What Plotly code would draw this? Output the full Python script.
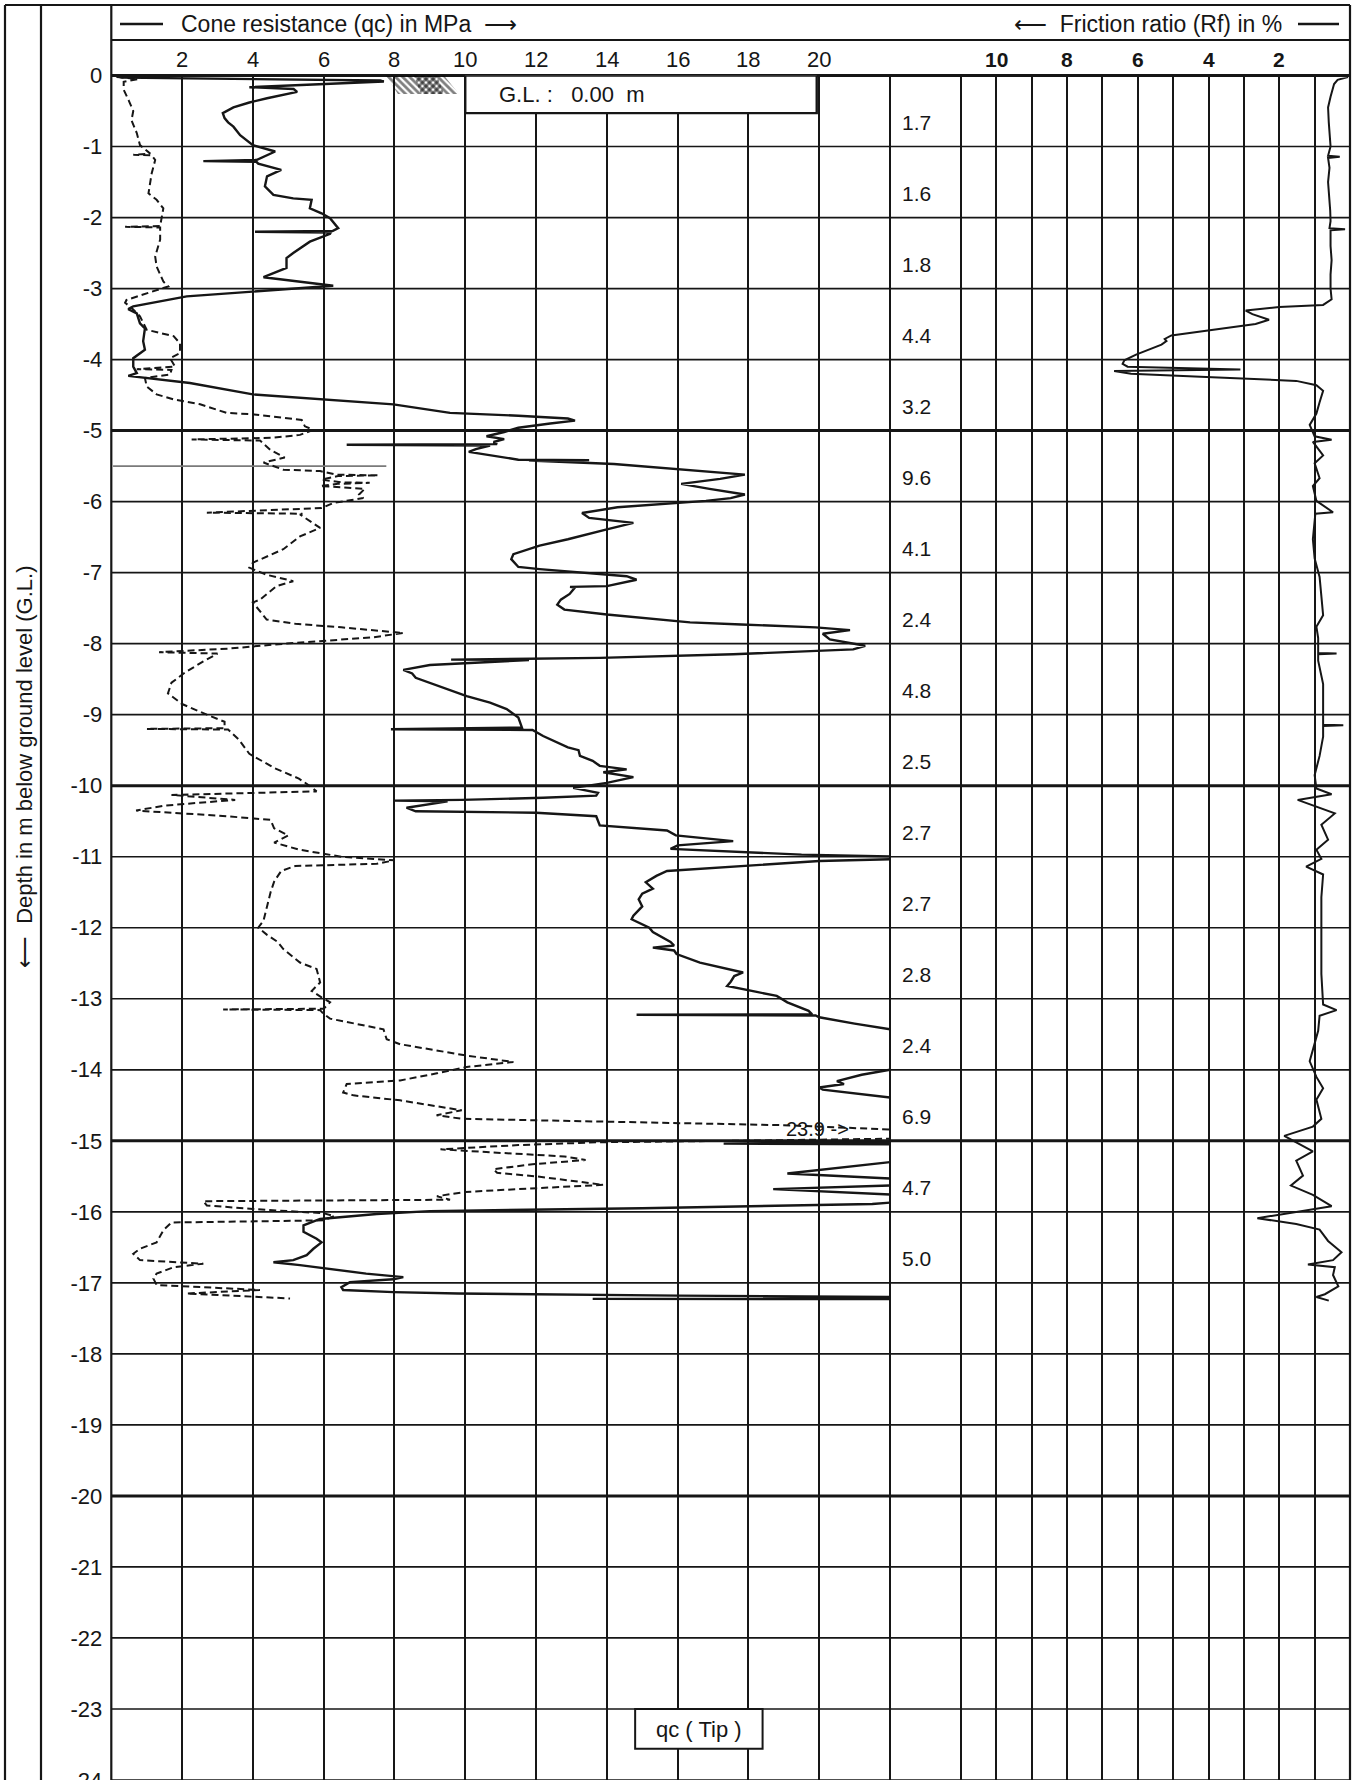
import plotly.graph_objects as go

# ---------------------------------------------------------------------------
# CPT log data (depth below ground level in m)
# ---------------------------------------------------------------------------
# cone tip resistance qc [MPa]
qc_profile = [
    (0.00, 0.1), (0.03, 0.3), (0.07, 7.6), (0.085, 7.7), (0.165, 3.9), (0.175, 4.6),
    (0.19, 5.15), (0.23, 5.25), (0.27, 4.85), (0.32, 4.4), (0.38, 3.9), (0.45, 3.45),
    (0.53, 3.15), (0.60, 3.2), (0.66, 3.3), (0.72, 3.45), (0.84, 3.64), (0.93, 3.87),
    (0.98, 4.0), (1.07, 4.63), (1.14, 4.3), (1.19, 4.1), (1.205, 2.6), (1.215, 4.1),
    (1.24, 4.15), (1.33, 4.8), (1.42, 4.4), (1.56, 4.34), (1.68, 4.58), (1.73, 5.14),
    (1.75, 5.66), (1.87, 5.61), (1.94, 5.94), (2.01, 6.18), (2.15, 6.41), (2.19, 6.25),
    (2.20, 4.06), (2.21, 6.2), (2.23, 6.18), (2.34, 5.61), (2.50, 5.14), (2.57, 4.95),
    (2.71, 4.95), (2.78, 4.58), (2.84, 4.3), (2.96, 6.27), (2.99, 5.43), (3.11, 2.13),
    (3.25, 0.62), (3.29, 0.48), (3.35, 0.72), (3.49, 0.81), (3.56, 0.95), (3.74, 0.9),
    (3.86, 0.95), (3.98, 0.62), (4.10, 0.62), (4.19, 0.72), (4.23, 0.48), (4.33, 2.22),
    (4.49, 4.0), (4.56, 5.99), (4.63, 7.97), (4.75, 9.57), (4.79, 11.5), (4.83, 12.9),
    (4.86, 13.1), (4.90, 12.4), (4.96, 11.5), (5.02, 11.1), (5.08, 10.6), (5.12, 11.1),
    (5.16, 10.8), (5.19, 10.9), (5.20, 6.65), (5.21, 10.7), (5.26, 10.3), (5.30, 10.1),
    (5.34, 10.6), (5.38, 11.0), (5.41, 11.5), (5.415, 13.5), (5.42, 11.8), (5.47, 14.2),
    (5.55, 16.1), (5.62, 17.9), (5.68, 17.2), (5.75, 16.1), (5.82, 16.9), (5.90, 17.9),
    (5.95, 17.5), (5.99, 16.8), (6.08, 14.3), (6.16, 13.3), (6.23, 13.5), (6.30, 14.75),
    (6.39, 14.0), (6.53, 12.9), (6.62, 12.1), (6.74, 11.36), (6.81, 11.3), (6.92, 11.5),
    (6.95, 12.1), (7.00, 13.4), (7.05, 14.56), (7.10, 14.84), (7.19, 14.0), (7.20, 12.96),
    (7.21, 13.1), (7.30, 12.95), (7.38, 12.7), (7.45, 12.6), (7.52, 12.8), (7.59, 14.0),
    (7.70, 16.35), (7.73, 17.8), (7.77, 19.9), (7.81, 20.87), (7.86, 20.1), (7.94, 20.3),
    (8.03, 21.3), (8.08, 20.96), (8.15, 17.57), (8.20, 13.8), (8.225, 9.6), (8.23, 11.8),
    (8.30, 9.0), (8.37, 8.25), (8.42, 8.5), (8.48, 8.6), (8.60, 9.28), (8.74, 10.04),
    (8.83, 10.7), (8.92, 11.17), (9.04, 11.5), (9.18, 11.6), (9.205, 7.9), (9.215, 11.9),
    (9.30, 12.2), (9.39, 12.58), (9.46, 12.9), (9.50, 13.2), (9.58, 13.24), (9.65, 13.6),
    (9.72, 13.8), (9.77, 14.56), (9.81, 13.9), (9.88, 14.75), (9.96, 14.0), (10.03, 13.05),
    (10.10, 13.75), (10.14, 13.7), (10.17, 12.2), (10.20, 9.9), (10.21, 8.0), (10.22, 9.5),
    (10.31, 8.34), (10.36, 8.6), (10.38, 12.0), (10.43, 13.7), (10.56, 13.8), (10.63, 15.7),
    (10.70, 15.95), (10.78, 17.57), (10.84, 16.0), (10.89, 15.8), (10.97, 19.5), (11.00, 22.5),
    (11.03, 22.5), (11.06, 20.0), (11.20, 15.7), (11.27, 15.4), (11.36, 15.1), (11.45, 15.3),
    (11.52, 15.0), (11.60, 14.9), (11.70, 15.0), (11.83, 14.75), (11.88, 14.7), (12.00, 15.2),
    (12.06, 15.3), (12.20, 15.8), (12.25, 15.9), (12.28, 15.3), (12.32, 15.9), (12.37, 15.97),
    (12.49, 16.63), (12.63, 17.85), (12.68, 17.6), (12.76, 17.5), (12.82, 17.4), (12.90, 18.2),
    (12.96, 18.8), (13.05, 19.1), (13.17, 19.7), (13.22, 19.8), (13.225, 14.84), (13.235, 19.9),
    (13.26, 20.0), (13.35, 21.0), (13.43, 22.0), (13.50, 23.5), (13.95, 23.5), (14.00, 22.0),
    (14.07, 21.2), (14.16, 20.5), (14.20, 20.7), (14.25, 20.0), (14.28, 20.1), (14.39, 22.0),
    (14.45, 23.5), (14.97, 23.5), (15.02, 22.0), (15.04, 17.3), (15.05, 22.0), (15.09, 23.5),
    (15.26, 23.5), (15.30, 22.0), (15.46, 19.1), (15.53, 22.0), (15.56, 23.5), (15.60, 23.5),
    (15.63, 22.0), (15.68, 18.7), (15.75, 22.0), (15.78, 23.0), (15.85, 22.5), (15.89, 21.5),
    (15.95, 15.0), (15.99, 9.0), (16.03, 7.5), (16.10, 5.9), (16.19, 5.43), (16.28, 5.43),
    (16.38, 5.8), (16.43, 5.94), (16.52, 5.71), (16.61, 5.52), (16.68, 5.14), (16.71, 4.58),
    (16.75, 5.33), (16.82, 6.46), (16.87, 7.2), (16.92, 8.25), (16.95, 7.97), (16.99, 6.74),
    (17.06, 6.5), (17.10, 6.55), (17.13, 7.97), (17.15, 9.8), (17.18, 16.0), (17.20, 22.5),
    (17.22, 22.0), (17.225, 13.6), (17.23, 22.5),
]

# sleeve friction trace plotted on the qc scale (dashed)
fs_profile = [
    (0.02, 0.15), (0.05, 0.75), (0.09, 0.35), (0.20, 0.35), (0.36, 0.5), (0.50, 0.62),
    (0.63, 0.57), (0.81, 0.72), (0.98, 0.81), (1.10, 1.1), (1.115, 0.62), (1.125, 1.14),
    (1.19, 1.24), (1.38, 1.14), (1.66, 1.05), (1.75, 1.28), (1.87, 1.47), (2.01, 1.42),
    (2.12, 1.38), (2.13, 0.39), (2.14, 1.38), (2.31, 1.38), (2.55, 1.24), (2.69, 1.28),
    (2.90, 1.47), (2.97, 1.61), (3.04, 1.19), (3.16, 0.43), (3.20, 0.39), (3.27, 0.57),
    (3.39, 0.81), (3.58, 1.0), (3.67, 1.76), (3.77, 1.94), (3.91, 1.94), (3.98, 1.66),
    (4.10, 1.8), (4.135, 0.72), (4.145, 1.7), (4.21, 1.66), (4.26, 0.95), (4.38, 1.0),
    (4.49, 1.28), (4.56, 1.76), (4.63, 2.51), (4.75, 3.26), (4.77, 4.0), (4.82, 4.86),
    (4.85, 5.38), (4.94, 5.47), (4.99, 5.71), (5.06, 5.33), (5.10, 4.58), (5.125, 2.27),
    (5.14, 4.2), (5.27, 4.49), (5.38, 4.9), (5.45, 4.3), (5.55, 4.86), (5.57, 5.9),
    (5.62, 6.37), (5.63, 7.54), (5.64, 6.4), (5.69, 5.94), (5.73, 6.55), (5.735, 7.3),
    (5.75, 6.4), (5.78, 5.9), (5.82, 7.16), (5.90, 7.0), (5.95, 7.12), (6.02, 6.27),
    (6.09, 5.94), (6.155, 2.7), (6.17, 5.4), (6.18, 5.33), (6.37, 5.9), (6.49, 5.33),
    (6.67, 4.86), (6.86, 4.0), (6.93, 3.9), (7.03, 4.39), (7.12, 5.14), (7.19, 4.67),
    (7.38, 4.2), (7.42, 4.0), (7.66, 4.39), (7.72, 5.2), (7.77, 6.5), (7.85, 8.25),
    (7.91, 7.4), (8.00, 4.9), (8.07, 3.3), (8.12, 1.35), (8.14, 3.0), (8.25, 2.6),
    (8.40, 2.1), (8.55, 1.7), (8.70, 1.6), (8.85, 2.0), (9.00, 2.7), (9.10, 3.2),
    (9.19, 3.2), (9.20, 1.0), (9.21, 3.3), (9.35, 3.6), (9.55, 3.9), (9.75, 4.6),
    (9.90, 5.3), (10.00, 5.6), (10.08, 5.8), (10.13, 1.7), (10.20, 3.5), (10.28, 1.5),
    (10.35, 0.7), (10.42, 3.0), (10.48, 4.5), (10.60, 4.6), (10.70, 5.0), (10.80, 4.6),
    (10.90, 5.3), (11.00, 6.5), (11.05, 8.0), (11.10, 7.5), (11.13, 5.2), (11.20, 4.8),
    (11.35, 4.6), (11.50, 4.5), (11.70, 4.4), (11.90, 4.3), (12.00, 4.15), (12.10, 4.4),
    (12.20, 4.7), (12.30, 4.86), (12.49, 5.33), (12.58, 5.8), (12.77, 5.9), (12.89, 5.66),
    (12.98, 5.94), (13.05, 6.18), (13.14, 6.0), (13.15, 3.16), (13.16, 5.9), (13.21, 5.99),
    (13.28, 6.18), (13.43, 7.69), (13.57, 7.78), (13.64, 8.16), (13.80, 10.04), (13.89, 11.36),
    (13.96, 10.04), (14.05, 9.2), (14.15, 8.16), (14.20, 6.65), (14.32, 6.55), (14.36, 6.84),
    (14.43, 8.16), (14.50, 9.1), (14.57, 9.9), (14.64, 9.19), (14.69, 9.9), (14.78, 19.0),
    (14.83, 22.0), (14.88, 23.9), (14.93, 23.9), (14.97, 22.0), (15.00, 17.6), (15.02, 13.8),
    (15.06, 11.5), (15.12, 9.3), (15.17, 11.0), (15.22, 12.8), (15.27, 13.4), (15.33, 11.9),
    (15.40, 10.8), (15.45, 10.9), (15.50, 12.0), (15.56, 13.0), (15.62, 13.9), (15.68, 11.5),
    (15.72, 10.0), (15.78, 9.2), (15.83, 9.57), (15.85, 2.6), (15.91, 2.7), (15.96, 4.0),
    (16.02, 6.0), (16.06, 6.3), (16.12, 6.0), (16.15, 1.7), (16.26, 1.47), (16.43, 1.28),
    (16.52, 0.81), (16.59, 0.62), (16.68, 0.81), (16.73, 2.6), (16.78, 1.76), (16.87, 1.28),
    (16.94, 1.19), (17.03, 1.28), (17.10, 4.2), (17.15, 2.13), (17.22, 5.05),
]

# isolated friction reading glitch at 5.5 m
fs_glitch_depth = [5.5, 5.5]
fs_glitch_value = [0.05, 7.77]

# friction ratio Rf [%]
rf_profile = [
    (0.00, 0.35), (0.02, 0.06), (0.06, 0.35), (0.12, 0.45), (0.30, 0.55), (0.45, 0.62),
    (0.66, 0.6), (0.80, 0.58), (1.00, 0.55), (1.13, 0.62), (1.145, 0.29), (1.16, 0.62),
    (1.30, 0.58), (1.50, 0.62), (1.70, 0.58), (1.90, 0.56), (2.05, 0.55), (2.15, 0.58),
    (2.165, 0.14), (2.18, 0.55), (2.40, 0.55), (2.60, 0.52), (2.80, 0.55), (3.00, 0.55),
    (3.15, 0.52), (3.23, 0.76), (3.26, 2.0), (3.31, 2.95), (3.36, 2.76), (3.44, 2.29),
    (3.50, 2.67), (3.58, 3.9), (3.66, 5.05), (3.71, 5.24), (3.74, 5.19), (3.79, 5.33),
    (3.85, 5.62), (3.93, 6.05), (4.01, 6.38), (4.06, 6.43), (4.10, 6.29), (4.14, 3.1),
    (4.16, 6.67), (4.20, 6.19), (4.25, 3.9), (4.30, 1.52), (4.36, 0.95), (4.44, 0.76),
    (4.60, 0.86), (4.76, 0.95), (4.92, 1.14), (5.08, 1.0), (5.13, 0.52), (5.16, 1.05),
    (5.35, 0.76), (5.46, 1.0), (5.67, 0.86), (5.78, 1.05), (5.99, 0.95), (6.15, 0.48),
    (6.17, 0.98), (6.26, 1.0), (6.53, 1.05), (6.80, 1.0), (7.06, 0.86), (7.33, 0.81),
    (7.60, 0.76), (7.76, 0.95), (7.92, 0.9), (8.13, 0.9), (8.14, 0.38), (8.15, 0.9),
    (8.24, 0.9), (8.57, 0.76), (8.89, 0.76), (9.14, 0.76), (9.15, 0.19), (9.16, 0.76),
    (9.31, 0.76), (9.58, 0.86), (9.85, 1.0), (10.04, 0.95), (10.12, 0.52), (10.20, 1.48),
    (10.39, 0.43), (10.55, 0.81), (10.76, 0.62), (10.90, 0.95), (11.03, 0.81), (11.14, 1.24),
    (11.25, 0.76), (11.57, 0.81), (12.16, 0.81), (12.65, 0.81), (13.08, 0.76), (13.16, 0.38),
    (13.24, 0.86), (13.45, 0.9), (13.88, 1.14), (14.10, 0.95), (14.26, 0.76), (14.42, 0.95),
    (14.69, 0.81), (14.80, 1.05), (14.93, 1.86), (15.06, 1.38), (15.15, 1.05), (15.28, 1.52),
    (15.49, 1.33), (15.63, 1.67), (15.76, 1.05), (15.92, 0.52), (16.09, 2.62), (16.17, 1.52),
    (16.25, 0.86), (16.41, 0.62), (16.57, 0.24), (16.68, 0.48), (16.74, 1.19), (16.78, 0.43),
    (16.89, 0.48), (17.05, 0.33), (17.16, 0.71), (17.20, 0.95), (17.25, 0.6),
]

# per-metre values printed in the middle column
layer_label_depth = [0.66, 1.66, 2.66, 3.66, 4.66, 5.66, 6.66, 7.66, 8.66,
                     9.66, 10.66, 11.66, 12.66, 13.66, 14.66, 15.66, 16.66]
layer_label_text = ["1.7", "1.6", "1.8", "4.4", "3.2", "9.6", "4.1", "2.4", "4.8",
                    "2.5", "2.7", "2.7", "2.8", "2.4", "6.9", "4.7", "5.0"]

# axis tick labels
qc_tick_values = [2, 4, 6, 8, 10, 12, 14, 16, 18, 20]
rf_tick_values = [10, 8, 6, 4, 2]
depth_tick_values = [0, -1, -2, -3, -4, -5, -6, -7, -8, -9, -10, -11, -12,
                     -13, -14, -15, -16, -17, -18, -19, -20, -21, -22, -23, -24]

# ground-surface hatch symbol (qc, depth)
hatch_outline = [(7.75, 0.0), (9.4, 0.0), (9.82, 0.26), (8.1, 0.26), (7.75, 0.0)]
hatch_cross = [(8.55, 0.0), (9.2, 0.0), (9.4, 0.26), (8.75, 0.26), (8.55, 0.0)]

# ---------------------------------------------------------------------------
# sheet geometry (pixels)
# ---------------------------------------------------------------------------
W, H = 1358, 1780
X_FRAME_L, X_TITLE_COL, X_PLOT_L = 5, 41, 111.3
X_QC_R, X_RF_L, X_PLOT_R = 890, 961, 1350
Y_FRAME_T, Y_HEAD, Y_ZERO = 5, 40, 75.5

INK = "#161616"
FONT = "Liberation Sans, Arial, sans-serif"


def fx(x):
    return x / W


def fy(y):
    return 1 - y / H


qc_depth, qc_value = zip(*qc_profile)
fs_depth, fs_value = zip(*fs_profile)
rf_depth, rf_value = zip(*rf_profile)

fig = go.Figure()

# ground-surface symbol
for pts, shape in ((hatch_outline, "\\"), (hatch_cross, "/")):
    hx, hd = zip(*pts)
    fig.add_trace(go.Scatter(
        x=hx, y=[-d for d in hd], mode="lines", fill="toself",
        line=dict(width=0, color=INK), fillcolor="rgba(0,0,0,0)",
        fillpattern=dict(shape=shape, fgcolor="#000000", bgcolor="rgba(0,0,0,0)",
                         size=5, solidity=0.55),
        hoverinfo="skip", xaxis="x", yaxis="y"))

fig.add_trace(go.Scatter(
    x=fs_glitch_value, y=[-d for d in fs_glitch_depth], mode="lines",
    line=dict(color="#7a7a7a", width=1.8), hoverinfo="skip", xaxis="x", yaxis="y"))

fig.add_trace(go.Scatter(
    x=fs_value, y=[-d for d in fs_depth], mode="lines", name="fs",
    line=dict(color=INK, width=2.0, dash="7px,4px"), xaxis="x", yaxis="y"))

fig.add_trace(go.Scatter(
    x=qc_value, y=[-d for d in qc_depth], mode="lines", name="qc",
    line=dict(color=INK, width=2.4), xaxis="x", yaxis="y"))

fig.add_trace(go.Scatter(
    x=rf_value, y=[-d for d in rf_depth], mode="lines", name="Rf",
    line=dict(color=INK, width=2.0), xaxis="x2", yaxis="y"))

shapes = []


def hline(y, x0, x1, w):
    shapes.append(dict(type="line", xref="paper", yref="paper",
                       x0=fx(x0), x1=fx(x1), y0=fy(y), y1=fy(y),
                       line=dict(color=INK, width=w), layer="below"))


def vline(x, y0, y1, w):
    shapes.append(dict(type="line", xref="paper", yref="paper",
                       x0=fx(x), x1=fx(x), y0=fy(y0), y1=fy(y1),
                       line=dict(color=INK, width=w), layer="below"))


# sheet frame and header rules
hline(Y_FRAME_T, X_FRAME_L, X_PLOT_R, 2.2)
hline(Y_HEAD, X_PLOT_L, X_PLOT_R, 2.2)
hline(Y_ZERO, X_PLOT_L, X_PLOT_R, 2.8)
for x in (X_FRAME_L, X_TITLE_COL, X_PLOT_L, X_PLOT_R):
    vline(x, Y_FRAME_T, H, 2.2)
for x in (X_QC_R, X_RF_L):
    vline(x, Y_ZERO, H, 2.0)

# depth rules across the whole sheet, heavier every 5 m
for d in range(1, 25):
    shapes.append(dict(type="line", xref="paper", yref="y",
                       x0=fx(X_PLOT_L), x1=fx(X_PLOT_R), y0=-d, y1=-d,
                       line=dict(color=INK, width=3.0 if d % 5 == 0 else 1.7),
                       layer="below"))

# legend strokes in the header
hline(24, 120, 163, 2.4)
hline(24, 1298, 1339, 2.4)

# ground level box and probe type box
shapes.append(dict(type="rect", xref="x", yref="y", x0=10, x1=19.93, y0=0, y1=-0.53,
                   fillcolor="white", line=dict(color=INK, width=2.4), layer="above"))
shapes.append(dict(type="rect", xref="x", yref="y", x0=14.8, x1=18.4, y0=-23.0, y1=-23.56,
                   fillcolor="white", line=dict(color=INK, width=2.0), layer="above"))

annotations = []


def note(text, x, y, xref="paper", yref="paper", size=21, xanchor="center",
         yanchor="middle", angle=0, bold=False):
    annotations.append(dict(
        text=f"<b>{text}</b>" if bold else text, x=x, y=y, xref=xref, yref=yref,
        xanchor=xanchor, yanchor=yanchor, showarrow=False, textangle=angle,
        font=dict(family=FONT, size=size, color=INK)))


note("Cone resistance (qc) in MPa\u00a0\u00a0\u27f6", fx(179), fy(24), xanchor="left", size=23)
note("\u27f5\u00a0\u00a0Friction ratio (Rf) in %", fx(1284), fy(24), xanchor="right", size=23)

for v in qc_tick_values:
    note(str(v), v, fy(59), xref="x", size=22)
for v in rf_tick_values:
    note(str(v), v, fy(59), xref="x2", bold=True, size=21)

for d, t in zip(layer_label_depth, layer_label_text):
    note(t, fx(900), -d, yref="y", xanchor="left", size=21)

note("G.L. :\u00a0\u00a0 0.00\u00a0 m", 10.9, -0.27, xref="x", yref="y",
     xanchor="left", size=22)
note("qc ( Tip )", 16.6, -23.29, xref="x", yref="y", size=22)

fs_peak = max(fs_value)
note(f"{fs_peak:.1f}\u00a0->", 19.0, -14.84, xref="x", yref="y", xanchor="left", size=20)

note("\u27f5\u00a0\u00a0Depth in m below ground level (G.L.)", fx(25), fy(767),
     size=22, angle=-90)

axis_common = dict(showticklabels=False, zeroline=False, showline=False, ticks="",
                   showgrid=True, gridcolor=INK, fixedrange=True, automargin=False)

fig.update_layout(
    width=W, height=H,
    margin=dict(l=0, r=0, t=0, b=0, autoexpand=False),
    paper_bgcolor="white", plot_bgcolor="rgba(0,0,0,0)",
    showlegend=False, hovermode=False,
    font=dict(family=FONT, color=INK),
    xaxis=dict(domain=[fx(X_PLOT_L), fx(X_QC_R)], range=[0, 22], tick0=0, dtick=2,
               gridwidth=1.8, anchor="y", **axis_common),
    xaxis2=dict(domain=[fx(X_RF_L), fx(X_PLOT_R)], range=[11, 0], tick0=0, dtick=1,
                gridwidth=1.5, anchor="y", **axis_common),
    yaxis=dict(domain=[0, fy(Y_ZERO)], range=[-24, 0], tickmode="array",
               tickvals=depth_tick_values, ticktext=[str(v) for v in depth_tick_values],
               showgrid=False, zeroline=False, showline=False, ticks="",
               ticklabelstandoff=8, ticklabeloverflow="allow", automargin=False,
               tickfont=dict(family=FONT, size=22, color=INK),
               fixedrange=True, anchor="x"),
    shapes=shapes,
    annotations=annotations,
)

fig.write_html("out.html")
